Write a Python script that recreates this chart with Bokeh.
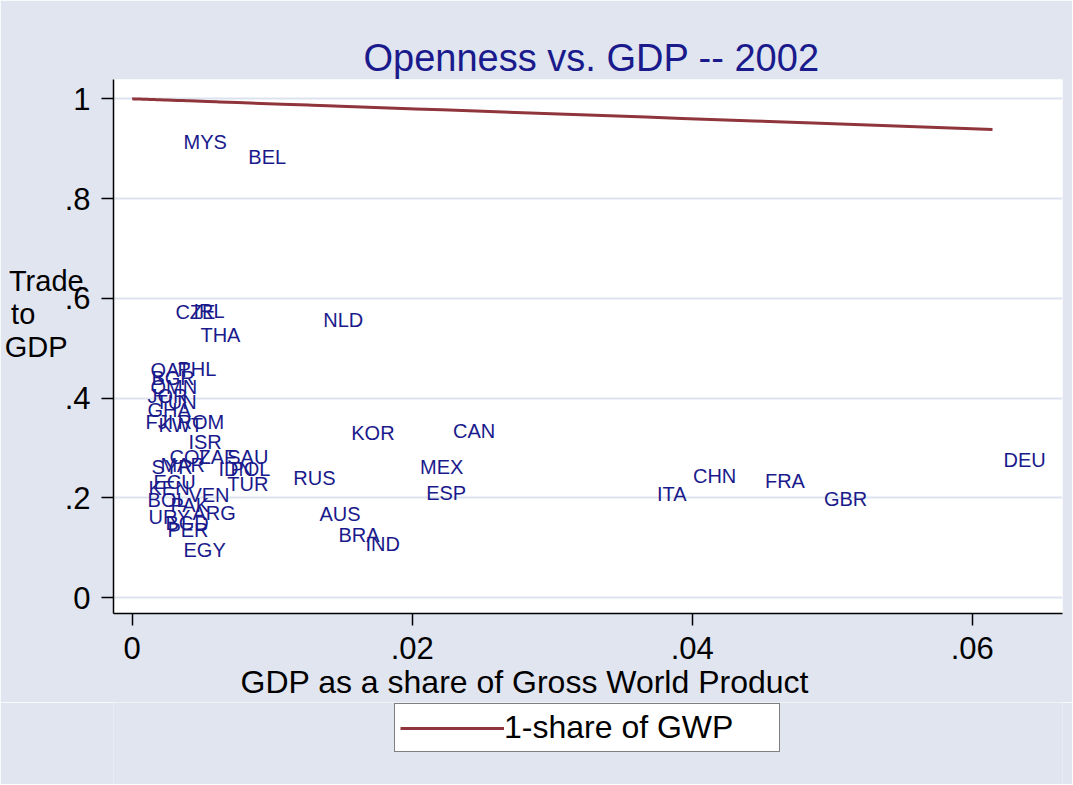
from bokeh.plotting import figure
from bokeh.layouts import column
from bokeh.models import (ColumnDataSource, FixedTicker, Legend, LegendItem, Title)
from bokeh.core.properties import value
from bokeh.embed import file_html
from bokeh.resources import INLINE

# ---- data ----
codes = ["MYS", "BEL", "CZE", "IRL", "THA", "NLD", "QAT", "PHL", "BGR", "OMN",
         "JOR", "TUN", "GHA", "FJI", "KWT", "ROM", "ISR", "COL", "ZAF", "SAU",
         "SYR", "MAR", "IDN", "POL", "TUR", "ECU", "KEN", "BOL", "VEN", "PAK",
         "ARG", "URY", "BGD", "PER", "EGY", "KOR", "CAN", "RUS", "MEX", "ESP",
         "AUS", "BRA", "IND", "ITA", "CHN", "FRA", "GBR", "DEU"]
gdp_share = [0.00288, 0.00751, 0.00230, 0.00359, 0.00409, 0.01286, 0.00052, 0.00245, 0.00059, 0.00052,
             0.00031, 0.00088, 0.00031, 0.00016, 0.00109, 0.00245, 0.00323, 0.00188, 0.00395, 0.00600,
             0.00059, 0.00123, 0.00537, 0.00623, 0.00601, 0.00073, 0.00038, 0.00031, 0.00323, 0.00195,
             0.00352, 0.00038, 0.00159, 0.00173, 0.00288, 0.01486, 0.02213, 0.01072, 0.01978, 0.02021,
             0.01259, 0.01395, 0.01588, 0.03670, 0.03927, 0.04441, 0.04862, 0.06145]
trade_gdp = [0.914, 0.884, 0.572, 0.574, 0.526, 0.556, 0.456, 0.458, 0.440, 0.423,
             0.405, 0.393, 0.377, 0.353, 0.347, 0.353, 0.313, 0.283, 0.283, 0.283,
             0.263, 0.267, 0.259, 0.259, 0.229, 0.233, 0.221, 0.195, 0.205, 0.185,
             0.169, 0.161, 0.149, 0.135, 0.095, 0.330, 0.335, 0.241, 0.262, 0.209,
             0.167, 0.125, 0.108, 0.208, 0.245, 0.234, 0.198, 0.277]

x_ticks = [0, 0.02, 0.04, 0.06]
x_tick_labels = ["0", ".02", ".04", ".06"]
y_ticks = [0, 0.2, 0.4, 0.6, 0.8, 1]
y_tick_labels = ["0", ".2", ".4", ".6", ".8", "1"]

# ---- styling ----
FONT = "Liberation Sans"
NAVY = "#1a1a8c"
BG = "#e0e5f0"
GRID = "#dde3ee"
MAROON = "#90353b"
NB = "\u00a0"

p = figure(frame_width=949, frame_height=534,
           min_border_left=113, min_border_right=10,
           min_border_top=79, min_border_bottom=89,
           x_range=(-0.001336, 0.06645), y_range=(-0.0315, 1.0387),
           output_backend="svg", toolbar_location=None)
p.background_fill_color = "white"
p.border_fill_color = BG
p.outline_line_color = None

for ax in (p.xaxis[0], p.yaxis[0]):
    ax.axis_line_color = "black"
    ax.axis_line_width = 1.5
    ax.major_tick_line_color = "black"
    ax.major_tick_line_width = 1.5
    ax.major_tick_out = 12
    ax.major_tick_in = 0
    ax.minor_tick_line_color = None
    ax.major_label_text_font = FONT
    ax.major_label_text_font_size = "31px"
    ax.major_label_text_color = "black"

p.xaxis.ticker = FixedTicker(ticks=x_ticks)
p.xaxis.major_label_overrides = dict(zip(x_ticks, x_tick_labels))
p.xaxis.major_label_standoff = 11

p.yaxis.ticker = FixedTicker(ticks=y_ticks)
p.yaxis.major_label_overrides = dict(zip(y_ticks, y_tick_labels))
p.yaxis.major_label_standoff = 11

# y-axis title, horizontal, three lines (padded so the lines start flush left)
p.yaxis.axis_label = "Trade\nto" + NB * 6 + "\nGDP" + NB * 2 + "\n\n"
p.yaxis.axis_label_text_font = FONT
p.yaxis.axis_label_text_font_size = "29px"
p.yaxis.axis_label_text_font_style = "normal"
p.yaxis.axis_label_text_color = "black"
p.yaxis.axis_label_text_line_height = 1.03
p.yaxis.axis_label_standoff = -22
p.yaxis.axis_label_orientation = "horizontal"

p.xgrid.visible = False
p.ygrid.grid_line_color = GRID
p.ygrid.grid_line_width = 2

# title
p.title = Title(text="Openness vs. GDP --  2002", align="left", offset=250,
                text_font=FONT, text_font_size="38px", text_font_style="normal",
                text_color=NAVY, standoff=2)

# 1 - share of GWP line
line_x = sorted([0.0] + gdp_share)
line_y = [1 - v for v in line_x]
ln = p.line(line_x, line_y, line_color=MAROON, line_width=3)

# country labels
src = ColumnDataSource(dict(x=gdp_share, y=trade_gdp, code=codes))
p.text(x="x", y="y", text="code", source=src, x_offset=11,
       text_align="left", text_baseline="middle",
       text_font=value(FONT), text_font_size="20px", text_color=NAVY)

# x-axis title (placed like the reference, left of centre)
p.add_layout(Title(text="GDP as a share of Gross World Product", align="left",
                   offset=127, standoff=0, text_font=FONT, text_font_size="32px",
                   text_font_style="normal", text_color="black"), "below")

# ---- legend strip below the plot ----
p2 = figure(width=1072, height=82, x_range=(0, 1), y_range=(0, 1),
            min_border=0, x_axis_type=None, y_axis_type=None,
            output_backend="svg", toolbar_location=None)
p2.background_fill_color = BG
p2.border_fill_color = BG
p2.outline_line_color = None
ln2 = p2.line(line_x, line_y, line_color=MAROON, line_width=3, visible=False)

legend = Legend(items=[LegendItem(label="1-share of GWP", renderers=[ln2])],
                location=(281, 32), margin=0, padding=5, spacing=0,
                glyph_width=104, glyph_height=30, label_standoff=0,
                label_width=270, label_text_font=FONT,
                label_text_font_size="32px", label_text_color="black",
                border_line_color="black", border_line_width=1.5,
                background_fill_color="white", background_fill_alpha=1,
                inactive_fill_alpha=0)
p2.add_layout(legend)

layout = column(p, p2, spacing=0)
open("out.html", "w").write(file_html(layout, INLINE))
